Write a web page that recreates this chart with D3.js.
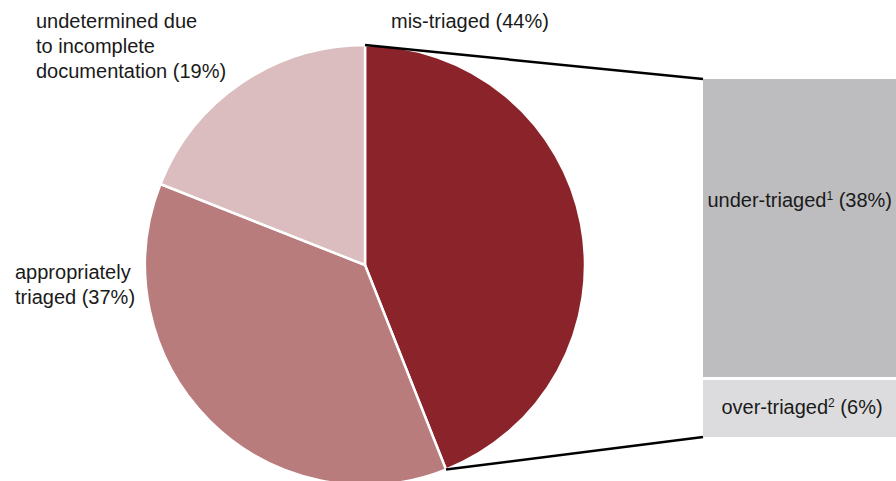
<!DOCTYPE html>
<html><head><meta charset="utf-8">
<script src="https://cdn.jsdelivr.net/npm/d3@7"></script>
<style>html,body{margin:0;padding:0;background:#fff;}svg{display:block;font-family:"Liberation Sans",Arial,sans-serif;}</style>
</head><body>
<script>
const pieCategories = ["mis-triaged", "appropriately triaged", "undetermined due to incomplete documentation"];
const pieValues = [44, 37, 19];
const pieColors = ["#8B242A", "#B97C7D", "#DCBDBF"];
const barCategories = ["under-triaged", "over-triaged"];
const barValues = [38, 6];
const barSup = ["1", "2"];
const barColors = ["#BDBDC0", "#DCDCDE"];

const W = 896, H = 481;
const svg = d3.select("body").append("svg").attr("width", W).attr("height", H);

const cx = 365, cy = 265, R = 220;
const pie = d3.pie().sort(null).value(d => d)(pieValues);
const arc = d3.arc().innerRadius(0).outerRadius(R);
const g = svg.append("g").attr("transform", `translate(${cx},${cy})`);
g.selectAll("path").data(pie).join("path")
  .attr("d", arc).attr("fill", (d, i) => pieColors[i])
  .attr("stroke", "#fff").attr("stroke-width", 2.5).attr("stroke-linejoin", "miter");

// bar stack
const bx0 = 703, bx1 = 896, by0 = 79, by1 = 437, gap = 3, minH = 57;
const total = d3.sum(barValues);
const y = d3.scaleLinear().domain([0, total]).range([0, by1 - by0 - gap]);
let hs = barValues.map(v => Math.max(y(v), minH));
hs[0] = (by1 - by0 - gap - hs[1]);
const ys = [by0, by0 + hs[0] + gap];
svg.selectAll("rect.bar").data(barValues).join("rect").attr("class", "bar")
  .attr("x", bx0).attr("width", bx1 - bx0)
  .attr("y", (d, i) => ys[i]).attr("height", (d, i) => hs[i])
  .attr("fill", (d, i) => barColors[i]);

// connector lines
const a0 = pie[0].startAngle, a1 = pie[0].endAngle;
const p0 = [cx + R * Math.sin(a0), cy - R * Math.cos(a0)];
const p1 = [cx + R * Math.sin(a1), cy - R * Math.cos(a1)];
svg.append("line").attr("x1", p0[0]).attr("y1", p0[1]).attr("x2", bx0).attr("y2", by0)
  .attr("stroke", "#000").attr("stroke-width", 2.5);
svg.append("line").attr("x1", p1[0]).attr("y1", p1[1]).attr("x2", bx0).attr("y2", by1)
  .attr("stroke", "#000").attr("stroke-width", 2.5);

const fs = 20;
function label(x, yy, lines, anchor) {
  const t = svg.append("text").attr("x", x).attr("y", yy).attr("font-size", fs)
    .attr("fill", "#1a1a1a").attr("text-anchor", anchor || "start");
  lines.forEach((l, i) => t.append("tspan").attr("x", x).attr("dy", i ? 25 : 0).text(l));
  return t;
}
label(36, 28, ["undetermined due", "to incomplete", `documentation (${pieValues[2]}%)`]);
label(391, 28, [`mis-triaged (${pieValues[0]}%)`]);
label(15, 279, ["appropriately", `triaged (${pieValues[1]}%)`]);

function barLabel(i, x, yy, anchor) {
  const t = svg.append("text").attr("x", x).attr("y", yy).attr("font-size", fs)
    .attr("fill", "#1a1a1a").attr("text-anchor", anchor);
  t.append("tspan").text(barCategories[i]);
  t.append("tspan").attr("font-size", 12).attr("dy", -7).text(barSup[i]);
  t.append("tspan").attr("dy", 7).text(` (${barValues[i]}%)`);
}
barLabel(0, 892, 207, "end");
barLabel(1, 802, 414, "middle");
</script>
</body></html>
